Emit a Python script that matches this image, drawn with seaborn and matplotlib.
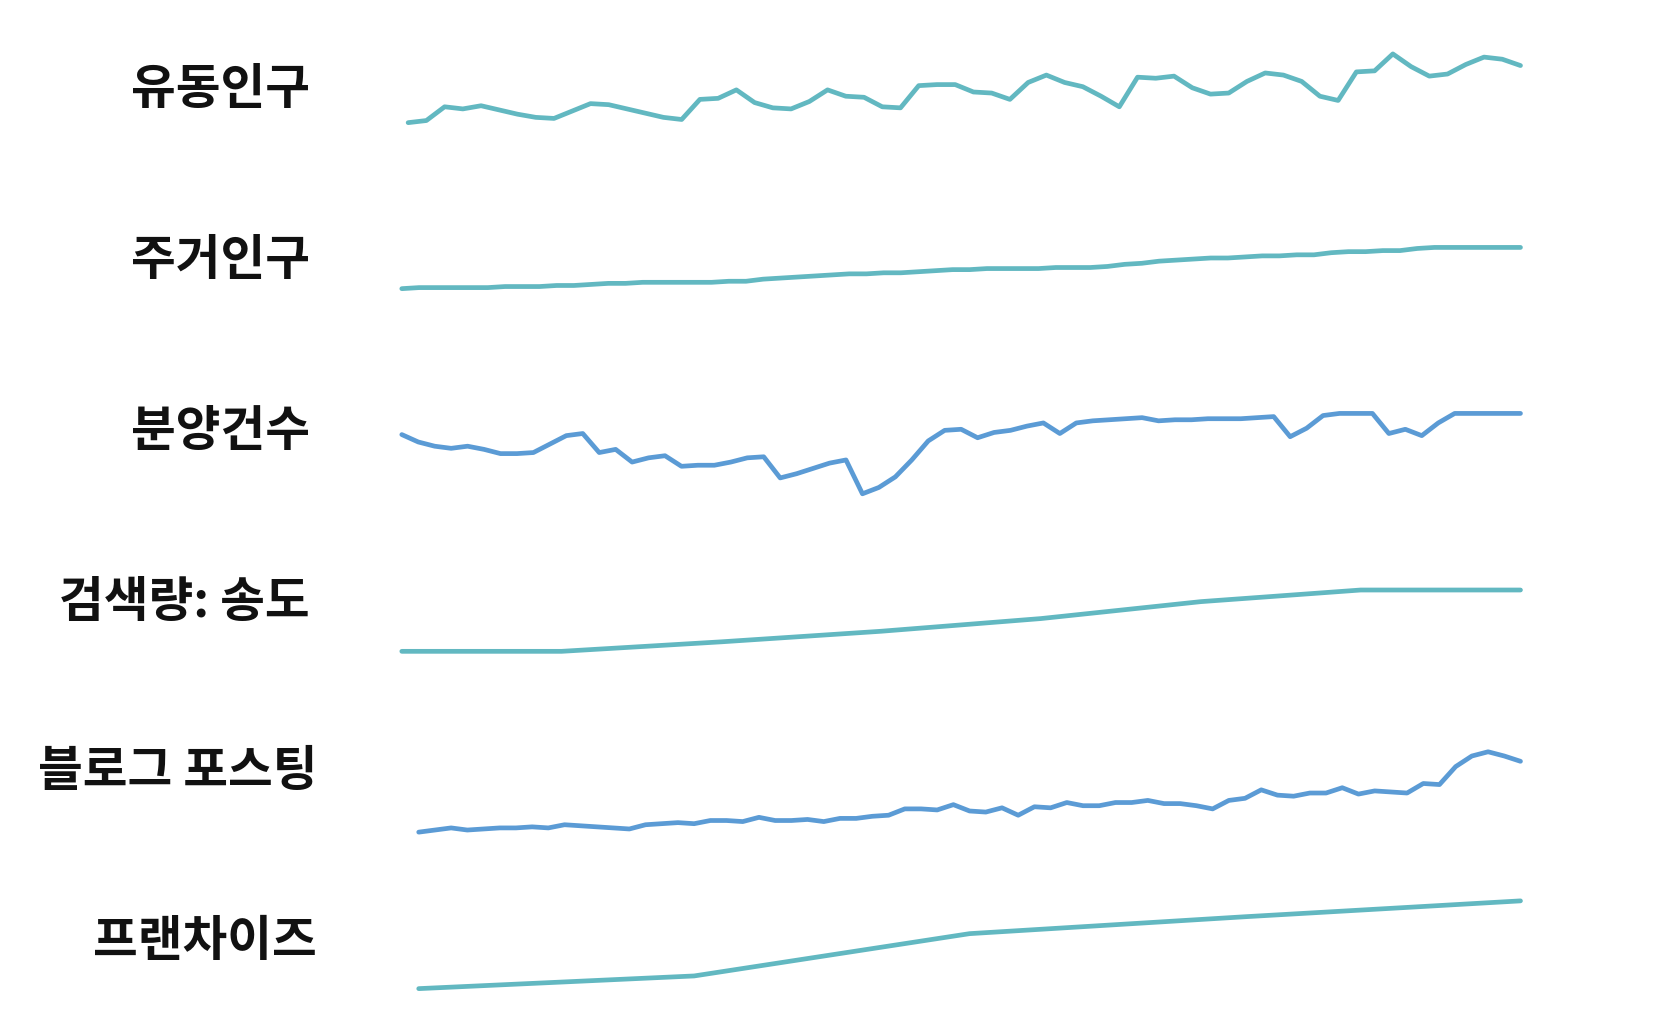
import numpy as np
import pandas as pd
import matplotlib
matplotlib.use("Agg")
import matplotlib.pyplot as plt
import seaborn as sns

sns.set_style("white")
plt.rcParams['font.family'] = ['Noto Sans CJK KR', 'DejaVu Sans']

TEAL = "#62b8c1"
BLUE = "#5b9bd5"

labels = ["유동인구", "주거인구", "분양건수", "검색량: 송도", "블로그 포스팅", "프랜차이즈"]

floating = [116, 114, 101, 103, 100, 104, 108, 111, 112, 105, 98, 99, 103, 107, 111, 113,
            94, 93, 85, 97, 102, 103, 96, 85, 91, 92, 101, 102, 81, 80, 80, 87, 88, 94,
            78, 71, 78, 82, 91, 101, 73, 74, 72, 83, 89, 88, 77, 69, 71, 77, 91, 95,
            68, 67, 51, 63, 72, 70, 61, 54, 56, 62]
resident = [273, 272, 272, 272, 272, 272, 271, 271, 271, 270, 270, 269, 268, 268, 267, 267,
            267, 267, 267, 266, 266, 264, 263, 262, 261, 260, 259, 259, 258, 258, 257, 256,
            255, 255, 254, 254, 254, 254, 253, 253, 253, 252, 250, 249, 247, 246, 245, 244,
            244, 243, 242, 242, 241, 241, 239, 238, 238, 237, 237, 235, 234, 234, 234, 234,
            234, 234]
sales = [411, 418, 422, 424, 422, 425, 429, 429, 428, 420, 412, 410, 428, 425, 437, 433,
         431, 441, 440, 440, 437, 433, 432, 452, 448, 443, 438, 435, 467, 461, 451, 435,
         417, 407, 406, 414, 409, 407, 403, 400, 410, 400, 398, 397, 396, 395, 398, 397,
         397, 396, 396, 396, 395, 394, 413, 405, 393, 391, 391, 391, 410, 406, 412, 400,
         391, 391, 391, 391, 391]
search = [616, 616, 607, 597, 585, 569, 558, 558]
blog = [787, 785, 783, 785, 784, 783, 783, 782, 783, 780, 781, 782, 783, 784, 780, 779,
        778, 779, 776, 776, 777, 773, 776, 776, 775, 777, 774, 774, 772, 771, 765, 765,
        766, 761, 767, 768, 764, 771, 763, 764, 759, 762, 762, 759, 759, 757, 760, 760,
        762, 765, 757, 755, 747, 752, 753, 750, 750, 745, 751, 748, 749, 750, 741, 742,
        725, 715, 711, 715, 720]
franchise = [935, 923, 883, 867, 852]

# values read as pixel heights -> flip so larger means higher
series = [[1000 - v for v in s] for s in [floating, resident, sales, search, blog, franchise]]
colors = [TEAL, TEAL, BLUE, TEAL, BLUE, TEAL]

W, H = 1659, 1033
S = 1659 / 1569  # layout measured on a scaled view
fig = plt.figure(figsize=(W / 100, H / 100), dpi=100)

# layout per row: left px, right px, label centre y px (scaled view)
rows = [(386, 1438, 85), (380, 1438, 246), (380, 1438, 408),
        (380, 1438, 570), (396, 1438, 730), (396, 1438, 890)]
label_right = [293, 293, 293, 293, 300, 300]

for (left, right, ly), lr, lab, vals, col in zip(rows, label_right, labels, series, colors):
    v = np.array(vals, dtype=float)
    top_px = (1000 - v.max()) * S
    bot_px = (1000 - v.min()) * S
    ax = fig.add_axes([left * S / W, 1 - bot_px / H, (right - left) * S / W,
                       (bot_px - top_px) / H])
    df = pd.DataFrame({"i": np.arange(len(v)), "v": v})
    sns.lineplot(data=df, x="i", y="v", ax=ax, color=col, linewidth=3.4,
                 solid_capstyle="round", solid_joinstyle="round")
    ax.set_xlim(0, len(v) - 1)
    ax.set_ylim(v.min(), v.max())
    ax.axis("off")
    for l in ax.lines:
        l.set_clip_on(False)
    fig.text(lr * S / W, 1 - ly * S / H, lab, ha="right", va="center",
             fontsize=35, fontweight="heavy", color="#111111")

fig.savefig("out.png", dpi=100)
